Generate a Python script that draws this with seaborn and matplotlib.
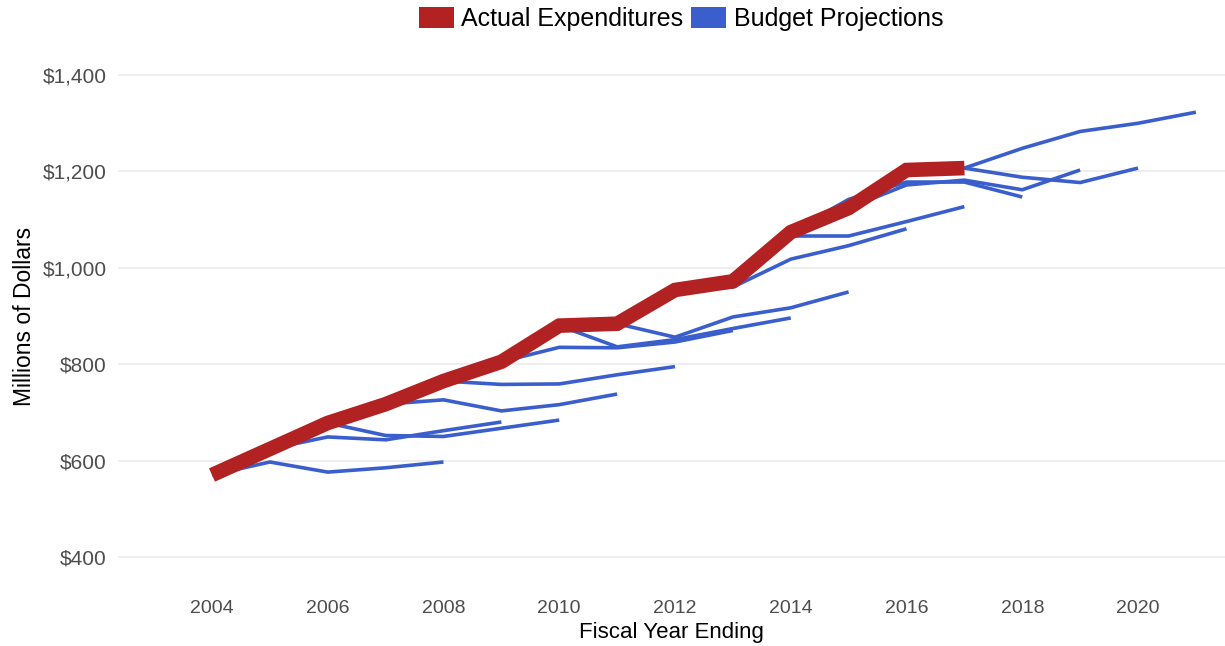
import matplotlib
matplotlib.use("Agg")
import matplotlib.pyplot as plt
from matplotlib.patches import Patch
from matplotlib.ticker import FuncFormatter
import numpy as np
import pandas as pd
import seaborn as sns

# Actual expenditures by fiscal year (millions of dollars)
actual_years = [2004, 2005, 2006, 2007, 2008, 2009, 2010, 2011,
                2012, 2013, 2014, 2015, 2016, 2017]
actual_values = [570, 624, 678, 717, 765, 805, 880, 884,
                 954, 972, 1074, 1124, 1203, 1207]

# Five-year budget projections, keyed by the year each one starts
projection_starts = [2004, 2005, 2006, 2007, 2008, 2009, 2010,
                     2011, 2012, 2013, 2014, 2015, 2016, 2017]
projection_values = [
    [570, 597, 576, 585, 597],
    [624, 649, 643, 662, 680],
    [678, 652, 650, 667, 684],
    [717, 726, 703, 716, 738],
    [765, 758, 759, 778, 795],
    [805, 835, 834, 846, 870],
    [880, 836, 851, 874, 896],
    [884, 856, 898, 917, 950],
    [954, 960, 1018, 1046, 1081],
    [972, 1066, 1066, 1096, 1127],
    [1074, 1142, 1178, 1178, 1147],
    [1124, 1172, 1182, 1162, 1203],
    [1203, 1207, 1188, 1177, 1207],
    [1207, 1248, 1283, 1300, 1323],
]

x_ticks = [2004, 2006, 2008, 2010, 2012, 2014, 2016, 2018, 2020]
y_ticks = [400, 600, 800, 1000, 1200, 1400]

RED = "#B22222"
BLUE = "#3A5FCD"

sns.set_theme(style="white")
plt.rcParams["font.family"] = ["Liberation Sans", "DejaVu Sans"]

actual_df = pd.DataFrame({"year": actual_years, "value": actual_values})
rows = []
for start, vals in zip(projection_starts, projection_values):
    for i, v in enumerate(vals):
        rows.append({"year": start + i, "value": v, "budget": start})
proj_df = pd.DataFrame(rows)

fig = plt.figure(figsize=(12.25, 6.46), dpi=100)
ax = fig.add_axes([118 / 1225, 65 / 646, 1107 / 1225, 530 / 646])

for y in y_ticks:
    ax.axhline(y, color="#EBEBEB", lw=1.2, zorder=0)

sns.lineplot(data=proj_df, x="year", y="value", units="budget",
             estimator=None, color=BLUE, lw=2.6, ax=ax, zorder=2,
             solid_capstyle="butt")
sns.lineplot(data=actual_df, x="year", y="value", color=RED, lw=10.5,
             ax=ax, zorder=3, solid_capstyle="butt", solid_joinstyle="miter")

ax.set_xlim(2002.376, 2021.503)
ax.set_ylim(350, 1450)
ax.set_xticks(x_ticks)
ax.set_yticks(y_ticks)
ax.yaxis.set_major_formatter(FuncFormatter(lambda v, p: f"${v:,.0f}"))
ax.tick_params(axis="x", length=0, labelsize=14, labelcolor="#4D4D4D", pad=14)
ax.tick_params(axis="y", length=0, labelsize=15, labelcolor="#4D4D4D", pad=8)
for s in ax.spines.values():
    s.set_visible(False)
ax.grid(False)

ax.set_xlabel("Fiscal Year Ending", fontsize=16, color="black", labelpad=3.5)
ax.set_ylabel("Millions of Dollars", fontsize=16.5, color="black", labelpad=5)

handles = [Patch(facecolor=RED, edgecolor="none", label="Actual Expenditures"),
           Patch(facecolor=BLUE, edgecolor="none", label="Budget Projections")]
fig.legend(handles=handles, loc="upper center", bbox_to_anchor=(681 / 1225, 1.012),
           ncol=2, frameon=False, fontsize=18, handlelength=1.4,
           handleheight=0.9, handletextpad=0.3, columnspacing=0.3,
           borderaxespad=0.2, labelcolor="black")

fig.savefig("out.png", dpi=100, facecolor="white")
